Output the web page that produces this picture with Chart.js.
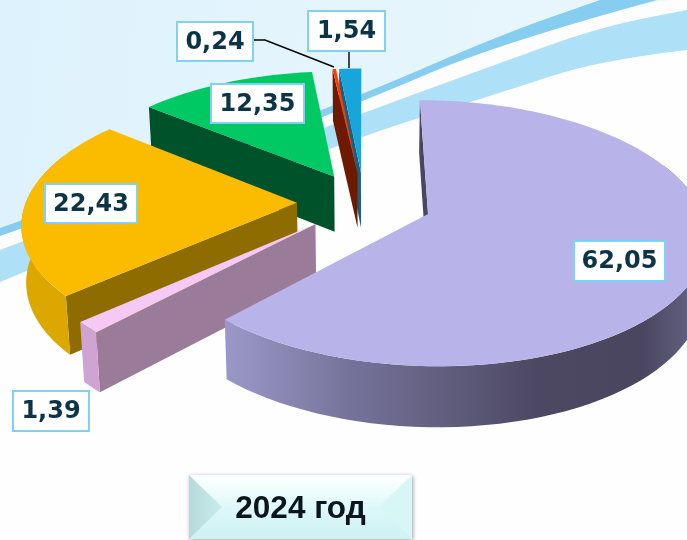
<!DOCTYPE html>
<html>
<head>
<meta charset="utf-8">
<title>2024 год</title>
<script src="https://cdn.jsdelivr.net/npm/chart.js@4"></script>
<style>
html, body { margin: 0; padding: 0; background: #fff; overflow: hidden; }
canvas { display: block; }
</style>
</head>
<body>
<canvas id="pie" width="687" height="540"></canvas>
<script>
const categories = ['a', 'b', 'c', 'd', 'e', 'f'];
const values = [62.05, 1.39, 22.43, 12.35, 0.24, 1.54];
const explode = [68, 66, 67, 64, 65, 65];
const yearLabel = '2024 год';

const topColors = ['#b8b4e9', '#f6c8f6', '#fbbc00', '#00c862', '#ff3d00', '#18a5dc'];
const wallColors = ['#4a4660', '#9b7b9a', '#8f6c00', '#00522a', '#6e1a00', '#1a5e80'];
const rimColors = ['#8a87b4', '#cfa4d2', '#dca800', '#00522a', '#6e1a00', '#1a5e80'];
// back slices first so the front ones paint over them
const drawOrder = [5, 4, 3, 2, 1, 0];

// x, y, w, h of the white value boxes
const labelBoxes = [[574, 241, 91, 40], [13, 391, 76, 40], [45, 184, 92, 39], [211, 84, 93, 39], [177, 22, 76, 39], [308, 11, 77, 40]];

// perspective of the pie plane
const R = 271, vpX = 364, rowY = 202, squash = 0.468, dist = 1895, depth = 56, taper = 0.014;

function project(u, v) {
    const w = 1 - v / dist;
    return { x: vpX + u / w, y: rowY + squash * v / w, w: w };
}
function drop(p) {
    return { x: vpX + (p.x - vpX) * (1 - taper), y: p.y + depth / Math.sqrt(p.w) };
}
function poly(ctx, pts, fill) {
    ctx.beginPath();
    pts.forEach((p, i) => i ? ctx.lineTo(p.x, p.y) : ctx.moveTo(p.x, p.y));
    ctx.closePath();
    ctx.fillStyle = fill;
    ctx.fill();
}

function drawSlice(ctx, arc, i) {
    const a0 = arc.startAngle, a1 = arc.endAngle, mid = (a0 + a1) / 2;
    const e = arc.options.offset;
    const ax = e * Math.cos(mid), ay = e * Math.sin(mid);
    const at = t => project(ax + R * Math.cos(t), ay + R * Math.sin(t));
    const apex = project(ax, ay);

    // side wall along the starting edge
    const s = at(a0);
    poly(ctx, [apex, s, drop(s), drop(apex)], wallColors[i]);

    // outer rim, only where it faces the viewer
    const from = Math.max(a0, -0.4), to = Math.min(a1, Math.PI + 0.4);
    if (to > from) {
        const upper = [];
        for (let k = 0; k <= 60; k++) upper.push(at(from + (to - from) * k / 60));
        let fill = rimColors[i];
        if (i === 0) {
            fill = ctx.createLinearGradient(226, 0, 687, 0);
            fill.addColorStop(0, '#9b98c9');
            fill.addColorStop(0.27, '#76739a');
            fill.addColorStop(0.68, '#4c4862');
            fill.addColorStop(0.9, '#4a4660');
            fill.addColorStop(1, '#605d7d');
        }
        poly(ctx, upper.concat(upper.map(drop).reverse()), fill);
    }

    // top face
    const face = [apex];
    const steps = Math.max(4, Math.ceil((a1 - a0) * 40));
    for (let k = 0; k <= steps; k++) face.push(at(a0 + (a1 - a0) * k / steps));
    poly(ctx, face, topColors[i]);
}

// closed ribbon between an upper and a lower run of points, smoothed through midpoints
function ribbon(ctx, upper, lower, fill) {
    const pts = upper.concat(lower.slice().reverse());
    ctx.beginPath();
    ctx.moveTo(pts[0][0], pts[0][1]);
    for (let k = 1; k < pts.length - 1; k++) {
        if (k === upper.length - 1 || k === upper.length) {
            ctx.lineTo(pts[k][0], pts[k][1]);
        } else {
            ctx.quadraticCurveTo(pts[k][0], pts[k][1], (pts[k][0] + pts[k + 1][0]) / 2, (pts[k][1] + pts[k + 1][1]) / 2);
        }
    }
    ctx.lineTo(pts[pts.length - 1][0], pts[pts.length - 1][1]);
    ctx.closePath();
    ctx.fillStyle = fill;
    ctx.fill();
}

function drawBackground(ctx) {
    ctx.fillStyle = '#fefefe';
    ctx.fillRect(0, 0, 687, 540);

    const sky = ctx.createLinearGradient(0, 0, 687, 60);
    sky.addColorStop(0, '#def2fd');
    sky.addColorStop(1, '#eaf7fc');
    ctx.fillStyle = sky;
    ctx.beginPath();
    ctx.moveTo(0, 0);
    ctx.lineTo(687, 0);
    ctx.lineTo(687, 10);
    ctx.lineTo(600, 27);
    ctx.lineTo(500, 63);
    ctx.lineTo(363, 113);
    ctx.lineTo(0, 250);
    ctx.closePath();
    ctx.fill();

    // white gap between the two swooshes
    ribbon(ctx, [[0, 236], [180, 172], [362, 102], [500, 43], [657, 0], [687, 0]],
        [[0, 250], [180, 182], [363, 113], [500, 63], [600, 27], [687, 10]], '#fdfdfd');

    // lighter swoosh
    ribbon(ctx, [[0, 250], [180, 182], [363, 113], [500, 63], [600, 27], [687, 10]],
        [[0, 282], [180, 208], [363, 135], [500, 93], [600, 60], [687, 50]], '#aee0f8');

    // darker swoosh
    ribbon(ctx, [[0, 228], [180, 164], [362, 95], [500, 35], [600, 0]],
        [[0, 236], [180, 172], [362, 102], [500, 43], [657, 0]], '#86cdf0');
}

function drawYearButton(ctx) {
    const x = 189, y = 475, w = 223, h = 64;
    ctx.save();
    ctx.shadowColor = 'rgba(70,90,100,0.55)';
    ctx.shadowBlur = 4;
    ctx.shadowOffsetX = 1;
    ctx.shadowOffsetY = 1;
    ctx.fillStyle = '#d0f3f5';
    ctx.fillRect(x, y, w, h);
    ctx.restore();

    const face = ctx.createLinearGradient(0, y, 0, y + h);
    face.addColorStop(0, '#ffffff');
    face.addColorStop(0.3, '#ecfcfc');
    face.addColorStop(0.5, '#def8f9');
    face.addColorStop(1, '#cdf1f4');
    ctx.fillStyle = face;
    ctx.fillRect(x, y, w, h);

    const left = ctx.createLinearGradient(x, 0, x + 33, 0);
    left.addColorStop(0, '#b6d9da');
    left.addColorStop(1, '#c9ecee');
    poly(ctx, [{ x: x, y: y }, { x: x + 33, y: y + 32 }, { x: x, y: y + h }], left);
    poly(ctx, [{ x: x + w, y: y }, { x: x + w - 33, y: y + 32 }, { x: x + w, y: y + h }], '#d8f6f6');

    ctx.fillStyle = '#0a1520';
    ctx.font = 'bold 31.5px "Liberation Sans"';
    ctx.textAlign = 'center';
    ctx.textBaseline = 'middle';
    ctx.fillText(yearLabel, x + w / 2, y + 34);
}

function drawLabels(ctx) {
    // leader lines for the two thin slices
    ctx.strokeStyle = '#000';
    ctx.lineWidth = 1.4;
    ctx.beginPath();
    ctx.moveTo(253, 40);
    ctx.lineTo(265, 40);
    ctx.lineTo(334, 67);
    ctx.moveTo(349, 51);
    ctx.lineTo(349, 68);
    ctx.stroke();

    ctx.font = 'bold 24px "DejaVu Sans"';
    ctx.textAlign = 'center';
    ctx.textBaseline = 'middle';
    values.forEach((val, i) => {
        const b = labelBoxes[i];
        ctx.fillStyle = '#fff';
        ctx.fillRect(b[0], b[1], b[2], b[3]);
        ctx.strokeStyle = '#7fd2f2';
        ctx.lineWidth = 2;
        ctx.strokeRect(b[0], b[1], b[2], b[3]);
        ctx.fillStyle = '#0c3447';
        ctx.fillText(val.toFixed(2).replace('.', ','), b[0] + b[2] / 2, b[1] + b[3] / 2 + 1);
    });
}

const pie3d = {
    id: 'pie3d',
    beforeDraw(chart) {
        drawBackground(chart.ctx);
    },
    beforeDatasetDraw(chart, args) {
        const ctx = chart.ctx;
        const arcs = chart.getDatasetMeta(args.index).data;
        drawOrder.forEach(i => drawSlice(ctx, arcs[i], i));
        return false; // flat arcs not wanted, only the projected ones
    },
    afterDraw(chart) {
        drawYearButton(chart.ctx);
        drawLabels(chart.ctx);
    }
};

const chart = new Chart(document.getElementById('pie').getContext('2d'), {
    type: 'pie',
    data: {
        labels: categories,
        datasets: [{
            data: values,
            offset: explode,
            backgroundColor: topColors,
            borderWidth: 0
        }]
    },
    options: {
        responsive: false,
        animation: false,
        events: [],
        plugins: {
            legend: { display: false },
            tooltip: { enabled: false }
        }
    },
    plugins: [pie3d]
});
</script>
</body>
</html>
